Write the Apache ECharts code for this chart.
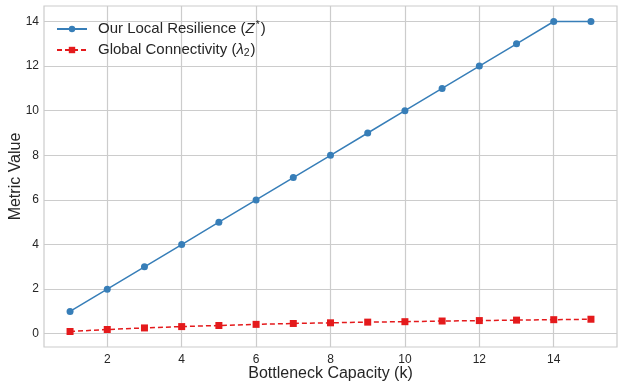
<!DOCTYPE html>
<html>
<head>
<meta charset="utf-8">
<script src="https://cdn.jsdelivr.net/npm/echarts@6/dist/echarts.min.js"></script>
<style>
  html, body { margin: 0; padding: 0; background: #ffffff; }
  #chart { width: 620px; height: 383px; }
</style>
</head>
<body>
<div id="chart"></div>
<script>
// Bottleneck capacity k
const capacities = [1, 2, 3, 4, 5, 6, 7, 8, 9, 10, 11, 12, 13, 14, 15];
// Local resilience Z*
const localResilience = [1, 2, 3, 4, 5, 6, 7, 8, 9, 10, 11, 12, 13, 14, 14];
// Algebraic connectivity lambda_2
const globalConnectivity = [0.10, 0.19, 0.26, 0.32, 0.37, 0.42, 0.46, 0.49, 0.52, 0.54, 0.57, 0.59, 0.61, 0.63, 0.65];

// Tick positions
const xTicks = [2, 4, 6, 8, 10, 12, 14];
const yTicks = [0, 2, 4, 6, 8, 10, 12, 14];

const seriesNames = ['Our Local Resilience (Z*)', 'Global Connectivity (λ2)'];
const legendLabels = {
  'Our Local Resilience (Z*)': 'Our Local Resilience ({it|Z}{sup|*})',
  'Global Connectivity (λ2)': 'Global Connectivity ({it|λ}{sub|2})'
};
const xTitle = 'Bottleneck Capacity (k)';
const yTitle = 'Metric Value';

const FONT = '"Liberation Sans", Arial, "DejaVu Sans", sans-serif';
const TEXT = '#262626';
const GRID = '#cccccc';
const BLUE = '#377eb8';
const RED = '#e41a1c';

const chart = echarts.init(document.getElementById('chart'), null, { renderer: 'canvas' });

chart.setOption({
  animation: false,
  backgroundColor: '#ffffff',
  textStyle: { fontFamily: FONT, color: TEXT },
  grid: {
    left: 44, right: 3, top: 6, bottom: 36,
    show: true, borderColor: GRID, borderWidth: 1.2,
    containLabel: false, outerBoundsMode: 'none'
  },
  legend: {
    left: 51, top: 15, orient: 'vertical',
    itemWidth: 30, itemHeight: 8, itemGap: 6,
    data: seriesNames,
    formatter: name => legendLabels[name],
    textStyle: {
      fontFamily: FONT, fontSize: 15, color: TEXT, padding: [0, 0, 0, 6],
      rich: {
        it: { fontFamily: FONT, fontSize: 15, fontStyle: 'italic', color: TEXT },
        sup: { fontFamily: FONT, fontSize: 10.5, color: TEXT, verticalAlign: 'top', padding: [0, 1, 7, 1] },
        sub: { fontFamily: FONT, fontSize: 10.5, color: TEXT, verticalAlign: 'bottom', padding: [6, 1, 0, 0] }
      }
    }
  },
  xAxis: {
    type: 'value',
    min: 0.3, max: 15.7,
    name: xTitle, nameLocation: 'middle', nameGap: 19, nameMoveOverlap: false,
    nameTextStyle: { fontFamily: FONT, fontSize: 16, color: TEXT },
    axisLine: { show: false },
    axisTick: { show: false, customValues: xTicks },
    axisLabel: {
      fontFamily: FONT, fontSize: 12, color: TEXT, margin: 7,
      customValues: xTicks
    },
    splitLine: { show: true, lineStyle: { color: GRID, width: 1.2 } }
  },
  yAxis: {
    type: 'value',
    min: -0.595, max: 14.695,
    name: yTitle, nameLocation: 'middle', nameGap: 20, nameRotate: 90, nameMoveOverlap: false,
    nameTextStyle: { fontFamily: FONT, fontSize: 16, color: TEXT },
    axisLine: { show: false },
    axisTick: { show: false, customValues: yTicks },
    axisLabel: {
      fontFamily: FONT, fontSize: 12, color: TEXT, margin: 5,
      customValues: yTicks
    },
    splitLine: { show: true, lineStyle: { color: GRID, width: 1.2 } }
  },
  series: [
    {
      name: seriesNames[0],
      type: 'line',
      data: capacities.map((k, i) => [k, localResilience[i]]),
      symbol: 'circle', symbolSize: 7,
      lineStyle: { color: BLUE, width: 1.5 },
      itemStyle: { color: BLUE },
      z: 3
    },
    {
      name: seriesNames[1],
      type: 'line',
      data: capacities.map((k, i) => [k, globalConnectivity[i]]),
      symbol: 'rect', symbolSize: 7,
      lineStyle: { color: RED, width: 1.5, type: [5, 3] },
      itemStyle: { color: RED },
      z: 3
    }
  ]
});
</script>
</body>
</html>
